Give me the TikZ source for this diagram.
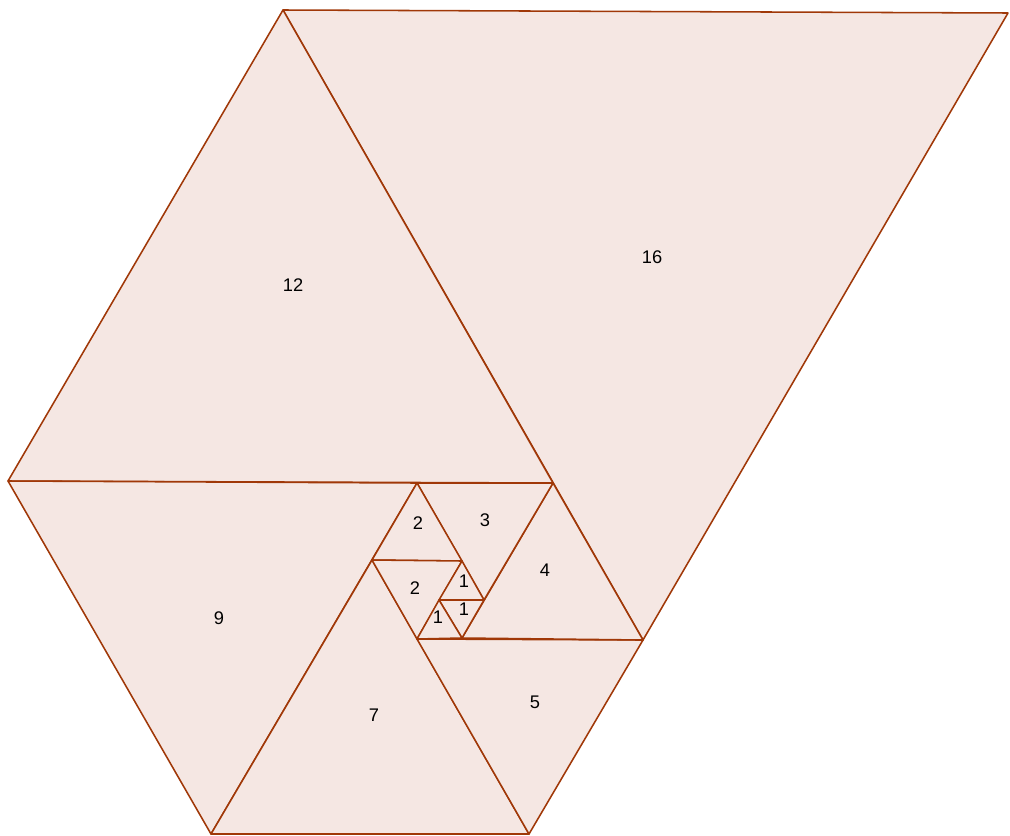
\documentclass[tikz,border=0pt]{standalone}
\usepackage{fontspec}
\setmainfont{Liberation Sans}
\definecolor{tiledge}{RGB}{160,56,8}
\definecolor{tilefill}{RGB}{245,231,227}
\tikzset{
  tile/.style  = {draw=tiledge, fill=tilefill, line width=1.1pt, line join=round},
  num/.style   = {font=\fontsize{13}{15}\selectfont, inner sep=0pt},
}
\begin{document}
\begin{tikzpicture}[x=0.025cm, y=-0.025cm]
    \useasboundingbox (0,0) rectangle (1010,835);

    % corners of the spiral, in pixel units
    \coordinate (a)  at (283,10);
    \coordinate (b)  at (1008,13);
    \coordinate (c)  at (8,481);
    \coordinate (d)  at (553,483);
    \coordinate (e)  at (643,640);
    \coordinate (f)  at (417,483);
    \coordinate (g)  at (211,834);
    \coordinate (h)  at (529,834);
    \coordinate (i)  at (372,560);
    \coordinate (j)  at (462,561);
    \coordinate (k)  at (417,639);
    \coordinate (l)  at (462,638);
    \coordinate (m)  at (439,600);
    \coordinate (n)  at (484,600);

    \filldraw[tile] (a) -- (b) -- (e) -- cycle;
    \filldraw[tile] (a) -- (c) -- (d) -- cycle;
    \filldraw[tile] (c) -- (f) -- (g) -- cycle;
    \filldraw[tile] (i) -- (g) -- (h) -- cycle;
    \filldraw[tile] (k) -- (e) -- (h) -- cycle;
    \filldraw[tile] (d) -- (e) -- (l) -- cycle;
    \filldraw[tile] (f) -- (d) -- (n) -- cycle;
    \filldraw[tile] (f) -- (i) -- (j) -- cycle;
    \filldraw[tile] (i) -- (j) -- (k) -- cycle;
    \filldraw[tile] (j) -- (m) -- (n) -- cycle;
    \filldraw[tile] (m) -- (n) -- (l) -- cycle;
    \filldraw[tile] (m) -- (k) -- (l) -- cycle;

    \node[num] (t16) at (652,257) {16};
    \node[num] (t12) at (293,285) {12};
    \node[num] (t9)  at (219,618) {9};
    \node[num] (t7)  at (374,715) {7};
    \node[num] (t5)  at (535,702) {5};
    \node[num] (t4)  at (545,570) {4};
    \node[num] (t3)  at (485,520) {3};
    \node[num] (t2a) at (418,523) {2};
    \node[num] (t2b) at (415,588) {2};
    \node[num] (t1a) at (464,581) {1};
    \node[num] (t1b) at (464,609) {1};
    \node[num] (t1c) at (438,617) {1};
\end{tikzpicture}
\end{document}
